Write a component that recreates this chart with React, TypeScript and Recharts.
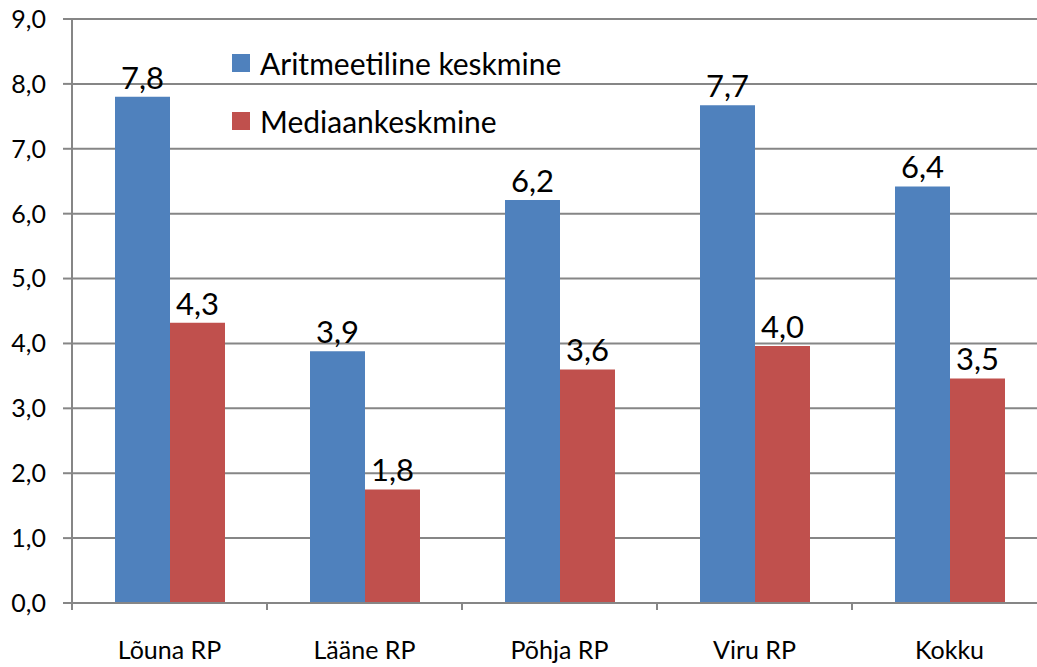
import React from 'react';
import { BarChart, Bar, XAxis, YAxis, CartesianGrid, LabelList } from 'recharts';

const categories = ['Lõuna RP', 'Lääne RP', 'Põhja RP', 'Viru RP', 'Kokku'];
const aritmeetiline = [7.8, 3.88, 6.21, 7.67, 6.42];
const mediaan = [4.32, 1.75, 3.6, 3.96, 3.46];
const yTicks = [0, 1, 2, 3, 4, 5, 6, 7, 8, 9];
const seriesNames = ['Aritmeetiline keskmine', 'Mediaankeskmine'];
const seriesColors = ['#4F81BD', '#C0504D'];

const data = categories.map((c, i) => ({ name: c, a: aritmeetiline[i], m: mediaan[i] }));

const FONT = 'Lato, "Open Sans", sans-serif';
const GRAY = '#868686';
const PLOT_W = 975;
const BAND = PLOT_W / categories.length;

const fmt = (v: number) => v.toFixed(1).replace('.', ',');

const XTick = (props: any) => {
  const { x, y, payload } = props;
  return (
    <g>
      <line x1={x - BAND / 2} x2={x - BAND / 2} y1={y} y2={y + 7} stroke={GRAY} strokeWidth={2} />
      <text x={x} y={y + 56} textAnchor="middle" fontSize={25} fontFamily={FONT} fill="#000">
        {payload.value}
      </text>
    </g>
  );
};

export default function App() {
  return (
    <div style={{ width: 1037, height: 667, overflow: 'hidden', position: 'relative', background: '#fff' }}>
      <style>{`body{margin:0;overflow:hidden;}`}</style>
      <BarChart
        width={1047}
        height={667}
        data={data}
        margin={{ top: 19, right: 0, bottom: 0, left: 0 }}
        barGap={0}
      >
        <CartesianGrid vertical={false} stroke={GRAY} strokeWidth={2} />
        <YAxis
          domain={[0, 9]}
          ticks={yTicks}
          interval={0}
          width={72}
          tickFormatter={fmt}
          stroke={GRAY}
          strokeWidth={2}
          tickSize={9}
          tickMargin={17}
          tick={{ fontSize: 25, fill: '#000', fontFamily: FONT }}
        />
        <XAxis
          dataKey="name"
          height={64}
          stroke={GRAY}
          strokeWidth={2}
          tickLine={false}
          tickSize={0}
          tickMargin={0}
          interval={0}
          tick={<XTick />}
        />
        <Bar dataKey="a" name={seriesNames[0]} fill={seriesColors[0]} barSize={55} isAnimationActive={false}>
          <LabelList dataKey="a" position="top" offset={8} formatter={fmt} style={{ fontSize: 31, fill: '#000', fontFamily: FONT }} />
        </Bar>
        <Bar dataKey="m" name={seriesNames[1]} fill={seriesColors[1]} barSize={55} isAnimationActive={false}>
          <LabelList dataKey="m" position="top" offset={8} formatter={fmt} style={{ fontSize: 31, fill: '#000', fontFamily: FONT }} />
        </Bar>
      </BarChart>
      <div style={{ position: 'absolute', left: 232, top: 34, fontFamily: FONT }}>
        {seriesNames.map((n, i) => (
          <div key={n} style={{ display: 'flex', alignItems: 'center', height: 58 }}>
            <div style={{ width: 18, height: 18, background: seriesColors[i], marginRight: 10 }} />
            <span style={{ fontSize: 30, color: '#000', lineHeight: '58px' }}>{n}</span>
          </div>
        ))}
      </div>
    </div>
  );
}
